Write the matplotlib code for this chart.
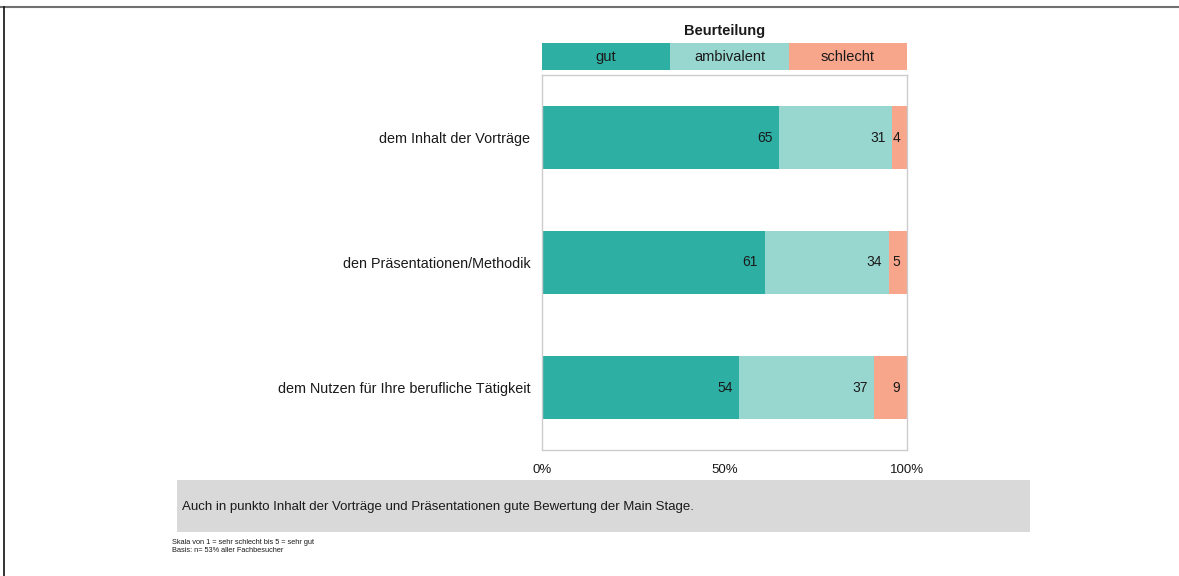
import matplotlib
matplotlib.use("Agg")
import matplotlib.pyplot as plt
from matplotlib.patches import Rectangle
from matplotlib.lines import Line2D

plt.rcParams['font.family'] = ['Liberation Sans', 'DejaVu Sans']

categories = ["dem Inhalt der Vorträge", "den Präsentationen/Methodik",
              "dem Nutzen für Ihre berufliche Tätigkeit"]
series_names = ["gut", "ambivalent", "schlecht"]
gut = [65, 61, 54]
ambivalent = [31, 34, 37]
schlecht = [4, 5, 9]
colors = ["#2eafa4", "#98d7d0", "#f7a58b"]
xtick_labels = ["0%", "50%", "100%"]
legend_title = "Beurteilung"
note = "Auch in punkto Inhalt der Vorträge und Präsentationen gute Bewertung der Main Stage."
footnotes = ["Skala von 1 = sehr schlecht bis 5 = sehr gut",
             "Basis: n= 53% aller Fachbesucher"]

W, H = 1179, 576
fig = plt.figure(figsize=(W / 100, H / 100), dpi=100)

def fx(px):
    return px / W

def fy(py):
    return 1 - py / H

ax = fig.add_axes([fx(542), fy(450), fx(907) - fx(542), fy(75) - fy(450)])
series = [gut, ambivalent, schlecht]
ypos = list(range(len(categories)))
left = [0] * len(categories)
for vals, col in zip(series, colors):
    ax.barh(ypos, vals, left=left, height=0.5, color=col, edgecolor='none')
    for i, v in enumerate(vals):
        ax.text(left[i] + v - 1.8, ypos[i], str(v), ha='right', va='center',
                fontsize=10, color='#1a1a1a')
    left = [l + v for l, v in zip(left, vals)]

ax.set_xlim(0, 100)
ax.set_ylim(len(categories) - 0.5, -0.5)
ax.set_yticks(ypos)
ax.set_yticklabels(categories, fontsize=10.4, color='#1a1a1a')
ax.set_xticks([0, 50, 100])
ax.set_xticklabels(xtick_labels, fontsize=9.5, color='#1a1a1a')
ax.tick_params(length=0, axis='y', pad=8.5)
ax.tick_params(length=0, axis='x', pad=10)
for s in ax.spines.values():
    s.set_color('#cccccc')
    s.set_linewidth(1)

# legend strip
lx = [542, 670, 789, 907]
for i, (name, col) in enumerate(zip(series_names, colors)):
    fig.patches.append(Rectangle((fx(lx[i]), fy(70)), fx(lx[i + 1]) - fx(lx[i]),
                                 fy(43) - fy(70), transform=fig.transFigure,
                                 facecolor=col, edgecolor='none'))
    fig.text((fx(lx[i]) + fx(lx[i + 1])) / 2, fy(57), name, ha='center', va='center',
             fontsize=10.5, color='#1a1a1a')
fig.text((fx(542) + fx(907)) / 2, fy(31), legend_title, ha='center', va='center',
         fontsize=10.5, fontweight='bold', color='#1a1a1a')

# note box
fig.patches.append(Rectangle((fx(177), fy(532)), fx(1030) - fx(177), fy(480) - fy(532),
                             transform=fig.transFigure, facecolor='#d9d9d9', edgecolor='none'))
fig.text(fx(182), fy(507), note, ha='left', va='center', fontsize=9.5, color='#1a1a1a')
fig.text(fx(172), fy(542), footnotes[0], ha='left', va='center', fontsize=5.3, color='#1a1a1a')
fig.text(fx(172), fy(551), footnotes[1], ha='left', va='center', fontsize=5.3, color='#1a1a1a')

# image border
fig.lines.append(Line2D([0, 1], [fy(6.5), fy(6.5)], transform=fig.transFigure,
                        color='#707070', linewidth=1.5))
fig.lines.append(Line2D([fx(3.5), fx(3.5)], [0, fy(6.5)], transform=fig.transFigure,
                        color='#111111', linewidth=1.2))

fig.savefig("out.png", dpi=100, facecolor='white')
